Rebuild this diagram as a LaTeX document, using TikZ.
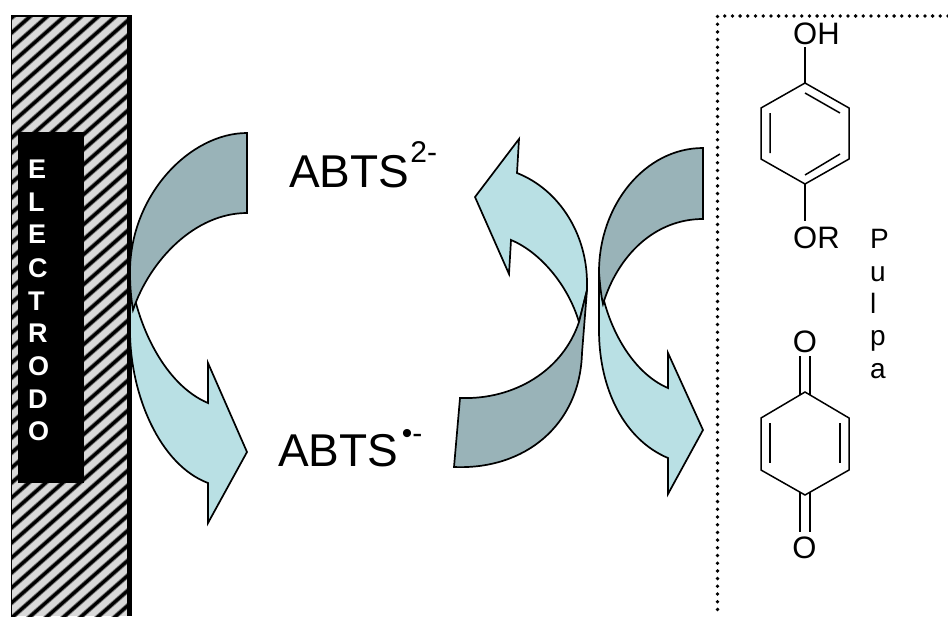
\documentclass[tikz,border=0pt]{standalone}
\usepackage{fontspec}
\setmainfont{Liberation Sans}
\definecolor{darkarrow}{HTML}{99B3B8}
\definecolor{lightarrow}{HTML}{B9E0E4}
\definecolor{hatchgrey}{HTML}{D9D9D9}
\tikzset{
  darkshape/.style={draw=black,fill=darkarrow,line width=1.7pt,line join=miter},
  lightshape/.style={draw=black,fill=lightarrow,line width=1.7pt,line join=miter},
  bond/.style={draw=black,line width=1.5pt,line cap=butt,line join=miter},
  elecletter/.style={text=white,font=\bfseries\fontsize{27}{27}\selectfont,anchor=base west,inner sep=0pt},
  chem/.style={font=\fontsize{31}{31}\selectfont,anchor=base,inner sep=0pt},
  chemw/.style={font=\fontsize{31}{31}\selectfont,anchor=base west,inner sep=0pt},
  pulpaletter/.style={font=\fontsize{28}{28}\selectfont,anchor=base west,inner sep=0pt},
  abts/.style={font=\fontsize{46}{46}\selectfont,anchor=base west,inner sep=0pt},
}
\newcommand{\supfont}{\fontsize{30}{30}\selectfont}
\begin{document}
\begin{tikzpicture}[x=1pt,y=-1pt]
\useasboundingbox (0,0) rectangle (948,616);
% electrode
\begin{scope}
  \clip (11,16) rectangle (127,616);
  \fill[hatchgrey] (11,16) rectangle (127,616);
  \foreach \k in {0,...,50} {
    \draw[black!55,line width=4.8pt] (0,{43+15*\k-15*4}) -- (200,{43+15*\k-15*4-176});
    \draw[black,line width=3pt] (0,{43+15*\k-15*4}) -- (200,{43+15*\k-15*4-176});
  }
\end{scope}
\fill[black] (126.5,15) rectangle (132,616);
\fill[black] (10.5,15) rectangle (132,17);
\fill[black] (10.5,15) rectangle (12,616);
\node[fill=black,minimum width=66pt,minimum height=351pt,inner sep=0pt,anchor=north west] (elec) at (18,132) {};
\foreach \ch/\yy in {E/178,L/211,E/243,C/277,T/310,R/342,O/375,D/408,O/440}
  \node[elecletter] at (28,\yy) {\ch};
% left pair
\draw[lightshape] (130,272) .. controls (136,325) and (165,385) .. (208,403) -- (208,363) -- (247,452) -- (208,523) -- (208,483)
  .. controls (160,465) and (130,395) .. (130,330) -- cycle;
\draw[darkshape] (247,133) .. controls (190,133) and (130,195) .. (130,272) .. controls (130,285) and (131,298) .. (133,310)
  .. controls (150,260) and (195,213) .. (247,213) -- cycle;
% middle pair
\draw[lightshape] (475,197) -- (519,139) -- (517,173) .. controls (560,190) and (587,235) .. (587,283) -- (587,290) -- (579,322)
  .. controls (568,285) and (540,252) .. (511,240) -- (509,274) -- cycle;
\draw[darkshape] (460,398) .. controls (515,400) and (563,370) .. (579,322) -- (587,290) -- (582,353)
  .. controls (580,425) and (525,470) .. (454,467) -- cycle;
% right pair
\draw[lightshape] (599,272) .. controls (603,320) and (630,372) .. (668,388) -- (668,353) -- (703,430) -- (668,494) -- (668,458)
  .. controls (625,440) and (599,390) .. (599,330) -- cycle;
\draw[darkshape] (703,148) .. controls (645,148) and (599,205) .. (599,272) .. controls (600,285) and (601,295) .. (603,304)
  .. controls (618,255) and (655,219) .. (703,219) -- cycle;
% labels
\node[abts] (abtsa) at (289,187) {ABTS\kern1pt\raisebox{25pt}{\supfont 2-}};
\node[abts] (abtsb) at (278,466) {ABTS\kern3.5pt\raisebox{23pt}{\supfont •-}};
% dotted frame
\draw[black,line width=3.8pt,line cap=round,dash pattern=on 0pt off 7.7pt] (948,16) -- (717.5,16) -- (717.5,616);
% hydroquinone
\node[chemw] (oh) at (793,44) {OH};
\node[chemw] (or) at (793,248) {OR};
\coordinate (a1) at (805,83); \coordinate (a2) at (849,108); \coordinate (a3) at (849,159);
\coordinate (a4) at (805,184); \coordinate (a5) at (761,159); \coordinate (a6) at (761,108);
\draw[bond] (a1) -- (a2) -- (a3) -- (a4) -- (a5) -- (a6) -- cycle;
\draw[bond] (770,113) -- (770,153) (805,93) -- (840,113) (805,175) -- (840,154);
\draw[bond] (805,47) -- (a1) (a4) -- (805,221);
% quinone
\node[chem] (ot) at (805,352) {O};
\node[chem] (ob) at (804.5,558) {O};
\coordinate (b1) at (805,392); \coordinate (b2) at (849,418); \coordinate (b3) at (849,470);
\coordinate (b4) at (805,495); \coordinate (b5) at (761,470); \coordinate (b6) at (761,418);
\draw[bond] (b1) -- (b2) -- (b3) -- (b4) -- (b5) -- (b6) -- cycle;
\draw[bond] (770,423) -- (770,463) (840,423) -- (840,463);
\draw[bond] (800,356) -- (800,395) (810,356) -- (810,395);
\draw[bond] (800,492) -- (800,532) (810,492) -- (810,532);
% Pulpa
\foreach \ch/\yy in {P/248,u/281,l/313,p/345,a/378}
  \node[pulpaletter] at (870,\yy) {\ch};
\end{tikzpicture}
\end{document}
